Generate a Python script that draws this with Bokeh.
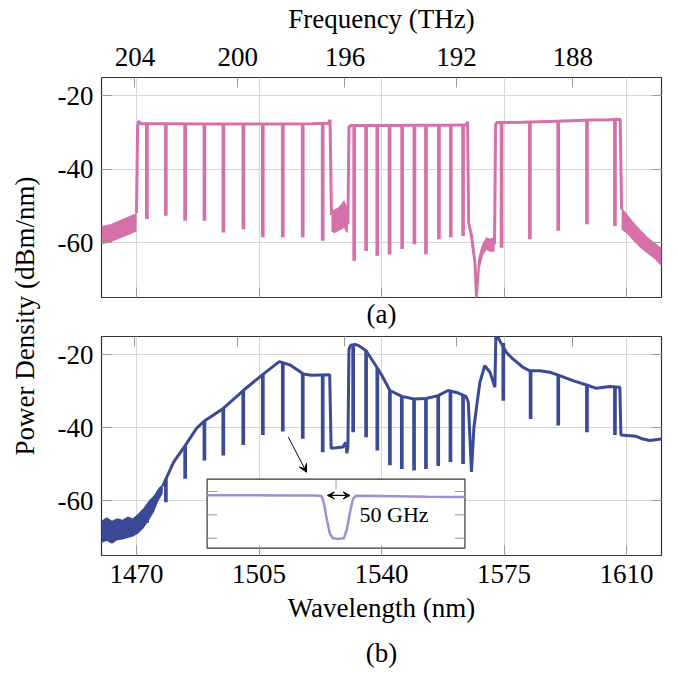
from bokeh.plotting import figure
from bokeh.models import (LinearAxis, FixedTicker, CustomJSTickFormatter, Range1d,
                          Arrow, VeeHead, Label, Title, Div)
from bokeh.layouts import column, row
from bokeh.embed import file_html
from bokeh.resources import INLINE

# ---------------- axes / ticks ----------------
C_LIGHT = 299792.458          # nm * THz
X_LIM = [1460, 1620]
Y_LIM = [-75, -15]
WL_TICKS = [1470, 1505, 1540, 1575, 1610]
DB_TICKS = [-60, -40, -20]
FREQ_TICKS_THZ = [204, 200, 196, 192, 188]

# ---------------- (a) pink spectrum ----------------
A_NOISE1_X = [1460.0, 1462.5, 1465.0, 1467.5, 1470.0]
A_NOISE1_HI = [-55.5, -55.0, -54.0, -53.0, -52.0]
A_NOISE1_LO = [-60.5, -60.0, -59.0, -58.0, -57.0]

A_LINE1_X = [1470.0, 1470.3, 1470.6, 1471.2, 1480.0, 1490.0, 1500.0, 1510.0, 1520.0, 1524.9, 1525.3, 1525.7]
A_LINE1_Y = [-52.0, -28.5, -26.9, -27.6, -27.6, -27.7, -27.7, -27.7, -27.6, -27.5, -26.5, -52.5]

A_NOISE2_X = [1525.7, 1526.5, 1527.5, 1528.5, 1529.3, 1529.8, 1530.4]
A_NOISE2_HI = [-51.5, -51.0, -50.5, -49.5, -48.5, -49.5, -51.0]
A_NOISE2_LO = [-57.0, -57.5, -57.0, -56.5, -56.0, -57.0, -57.5]

A_LINE2_X = [1530.4, 1530.7, 1531.2, 1540.0, 1550.0, 1560.0, 1564.2, 1564.6, 1564.9, 1565.7, 1566.7, 1567.2]
A_LINE2_Y = [-55.0, -28.6, -28.1, -28.1, -28.0, -28.0, -27.9, -27.1, -54.6, -58.1, -65.5, -76.0]

A_NOISE3_X = [1567.2, 1567.6, 1568.1, 1569.0, 1570.0, 1570.9, 1572.3]
A_NOISE3_HI = [-70.0, -64.5, -62.5, -60.0, -58.5, -59.0, -58.5]
A_NOISE3_LO = [-76.0, -74.0, -67.0, -63.5, -62.0, -62.5, -62.5]

A_LINE3_X = [1572.3, 1572.6, 1573.0, 1580.0, 1590.0, 1600.0, 1605.0, 1608.2, 1608.6]
A_LINE3_Y = [-60.5, -27.8, -27.3, -27.2, -26.9, -26.6, -26.5, -26.4, -51.0]

A_NOISE4_X = [1608.6, 1610.0, 1612.0, 1614.0, 1616.0, 1618.0, 1620.0]
A_NOISE4_HI = [-50.5, -52.0, -54.5, -56.5, -58.5, -60.0, -61.5]
A_NOISE4_LO = [-56.5, -57.5, -59.5, -61.5, -63.0, -64.5, -66.5]

A_NOTCH_X = [1472.96, 1478.38, 1483.89, 1489.40, 1494.83, 1500.54, 1506.08, 1511.79, 1517.49, 1523.20,
             1532.2, 1535.6, 1538.8, 1542.3, 1545.9, 1549.4, 1552.7, 1556.4, 1559.8, 1563.3,
             1574.3, 1582.4, 1590.5, 1598.7, 1606.7]
A_NOTCH_TOP = [-27.6, -27.6, -27.6, -27.7, -27.7, -27.7, -27.7, -27.7, -27.6, -27.6,
               -28.1, -28.1, -28.1, -28.1, -28.0, -28.0, -28.0, -28.0, -28.0, -27.9,
               -27.2, -27.1, -26.9, -26.6, -26.5]
A_NOTCH_BOTTOM = [-53.6, -52.7, -54.1, -54.1, -57.3, -56.4, -58.6, -58.6, -58.6, -59.5,
                  -65.0, -62.3, -63.6, -63.2, -61.8, -60.5, -63.2, -59.1, -58.6, -58.2,
                  -61.4, -59.1, -56.8, -55.0, -55.5]

# ---------------- (b) blue spectrum ----------------
B_NOISE_X = [1460.0, 1461.5, 1463.0, 1464.5, 1466.0, 1467.5, 1469.0, 1470.5, 1472.0, 1473.5, 1475.0, 1476.3, 1477.5]
B_NOISE_HI = [-65.5, -64.5, -65.5, -64.8, -65.2, -64.3, -64.8, -63.5, -62.0, -60.0, -58.5, -56.5, -55.5]
B_NOISE_LO = [-71.5, -71.0, -71.8, -70.8, -70.6, -70.2, -69.8, -69.0, -67.5, -65.5, -63.0, -60.0, -58.0]

B_LINE_X = [1477.5, 1480.6, 1483.9, 1487.2, 1489.6, 1494.8, 1500.5, 1506.2, 1510.8, 1513.9,
            1517.7, 1520.0, 1525.2, 1525.6, 1527.0, 1529.0, 1529.8, 1530.1, 1530.4, 1530.7,
            1531.2, 1532.5, 1533.5, 1535.6, 1538.4, 1540.0, 1542.4, 1545.8, 1549.3, 1552.7,
            1556.2, 1559.0, 1562.0, 1564.2, 1564.8, 1565.7, 1566.4, 1567.2, 1568.1, 1569.5,
            1571.0, 1572.4, 1572.7, 1573.2, 1573.8, 1575.7, 1577.6, 1580.5, 1582.4, 1585.2,
            1588.1, 1590.9, 1594.7, 1598.6, 1601.4, 1605.2, 1608.1, 1608.4, 1612.6, 1614.7,
            1616.6, 1620.0]
B_LINE_Y = [-56.0, -49.4, -44.9, -40.1, -38.0, -34.7, -29.8, -25.3, -21.9, -22.8,
            -25.3, -25.6, -25.5, -45.6, -45.5, -45.3, -44.0, -47.0, -45.5, -18.5,
            -17.4, -17.2, -17.5, -18.9, -23.0, -25.5, -29.8, -31.4, -32.1, -32.0,
            -31.2, -29.8, -30.5, -31.5, -33.0, -52.1, -40.0, -34.0, -27.6, -23.0,
            -24.8, -28.9, -13.5, -15.0, -16.2, -19.4, -21.2, -23.5, -24.4, -24.4,
            -24.8, -25.7, -27.1, -28.3, -29.2, -28.7, -28.9, -42.0, -42.3, -43.1,
            -43.5, -43.1]

B_NOTCH_X = [1473.0, 1478.4, 1483.9, 1489.4, 1494.8, 1500.5, 1506.1, 1511.8, 1517.5, 1523.2,
             1531.9, 1535.6, 1538.8, 1542.4, 1545.8, 1549.3, 1552.7, 1556.2, 1559.7, 1563.3,
             1574.8, 1582.6, 1590.5, 1598.7, 1606.7]
B_NOTCH_TOP = [-61.5, -54.0, -45.0, -38.3, -34.7, -29.8, -25.4, -22.0, -25.3, -25.6,
               -17.3, -18.9, -23.6, -29.8, -31.4, -32.1, -32.0, -31.2, -29.9, -31.0,
               -16.8, -24.4, -25.7, -28.3, -28.8]
B_NOTCH_BOTTOM = [-66.0, -60.4, -54.0, -49.0, -47.6, -44.7, -42.0, -41.0, -43.0, -46.7,
                  -41.2, -42.6, -46.2, -50.3, -51.3, -51.7, -51.3, -50.5, -49.4, -49.9,
                  -32.6, -37.6, -39.4, -41.2, -42.0]

# ---------------- inset (single notch, GHz offset vs dB) ----------------
INSET_X = [-285, -200, -100, -50, -32, -26.5, -20, -13.3, -6.7, 4.4, 17.6, 24.2, 30.8, 37.5, 44, 100, 200, 285]
INSET_Y = [-1.6, -1.6, -1.7, -1.7, -1.9, -5.3, -12.4, -18.2, -20.0, -20.3, -20.0, -16.0, -8.9, -3.2, -1.8, -1.9, -2.2, -2.4]
INSET_XLIM = [-285, 285]
INSET_YLIM = [-24.3, 5.27]
INSET_YTICKS = [0, -10, -20]
INSET_XTICKS = [0]
SPACING_ARROW = [-19, 31]      # 50 GHz marker
SPACING_LEVEL = -1.7
SPACING_TEXT = "50 GHz"

# ---------------- styling ----------------
FONT = "Liberation Serif"
FS = "27px"
PINK = "#D670A8"
BLUE = "#3B4A96"
INSET_COLOR = "#9B91D2"
TICK_COLOR = "#999999"
GRID_COLOR = "#d6d6d6"
FRAME_W = 560

EMPTY = "return '';"
PLAIN = "return tick.toFixed(0);"


def style_axis(ax, show_labels=True, standoff=6):
    ax.major_tick_in = 10
    ax.major_tick_out = 0
    ax.minor_tick_in = 0
    ax.minor_tick_out = 0
    ax.major_tick_line_color = TICK_COLOR
    ax.major_tick_line_width = 1
    ax.axis_line_color = None
    ax.major_label_text_font = FONT
    ax.major_label_text_color = "black"
    ax.major_label_text_font_size = FS
    ax.major_label_standoff = standoff if show_labels else 0
    ax.formatter = CustomJSTickFormatter(code=PLAIN if show_labels else EMPTY)
    ax.axis_label_text_font = FONT
    ax.axis_label_text_font_size = FS
    ax.axis_label_text_font_style = "normal"
    ax.axis_label_text_color = "black"


def freq_axis(show_labels):
    ax = LinearAxis(ticker=FixedTicker(ticks=[C_LIGHT / f for f in FREQ_TICKS_THZ], minor_ticks=[]))
    style_axis(ax, show_labels, 12)
    if show_labels:
        ax.formatter = CustomJSTickFormatter(code="return Math.round(%r / tick).toString();" % C_LIGHT)
    return ax


def base_fig(frame_h, b_top, b_bottom):
    p = figure(frame_width=FRAME_W, frame_height=frame_h,
               x_range=Range1d(*X_LIM), y_range=Range1d(*Y_LIM),
               output_backend="svg", toolbar_location=None,
               min_border_left=60, min_border_right=8,
               min_border_top=b_top, min_border_bottom=b_bottom)
    p.outline_line_color = "#333333"
    p.outline_line_width = 1.2
    p.xaxis.ticker = FixedTicker(ticks=WL_TICKS, minor_ticks=[])
    p.yaxis.ticker = FixedTicker(ticks=DB_TICKS, minor_ticks=[])
    p.grid.grid_line_color = GRID_COLOR
    p.grid.grid_line_width = 1
    style_axis(p.yaxis[0], True, 8)
    right = LinearAxis(ticker=FixedTicker(ticks=DB_TICKS, minor_ticks=[]))
    style_axis(right, False)
    p.add_layout(right, "right")
    return p


# ---------------- (a) ----------------
pa = base_fig(220, 75, 36)
style_axis(pa.xaxis[0], False)
pa.xaxis[0].axis_label = "(a)"
pa.xaxis[0].axis_label_standoff = 1
top_ax = freq_axis(True)
top_ax.axis_label = "Frequency (THz)"
top_ax.axis_label_standoff = 11
pa.add_layout(top_ax, "above")

for nx, hi, lo in [(A_NOISE1_X, A_NOISE1_HI, A_NOISE1_LO), (A_NOISE2_X, A_NOISE2_HI, A_NOISE2_LO),
                   (A_NOISE3_X, A_NOISE3_HI, A_NOISE3_LO), (A_NOISE4_X, A_NOISE4_HI, A_NOISE4_LO)]:
    pa.varea(x=nx, y1=lo, y2=hi, fill_color=PINK)
for lx, ly in [(A_LINE1_X, A_LINE1_Y), (A_LINE2_X, A_LINE2_Y), (A_LINE3_X, A_LINE3_Y)]:
    pa.line(lx, ly, line_color=PINK, line_width=3)
pa.segment(x0=A_NOTCH_X, y0=A_NOTCH_TOP, x1=A_NOTCH_X, y1=A_NOTCH_BOTTOM,
           line_color=PINK, line_width=3.7)

# ---------------- (b) ----------------
pb = base_fig(219, 3, 120)
style_axis(pb.xaxis[0], True, 9)
pb.xaxis[0].axis_label = "Wavelength (nm)"
pb.xaxis[0].axis_label_standoff = 7
pb.add_layout(freq_axis(False), "above")
pb.add_layout(Title(text="(b)", align="center", text_font=FONT, text_font_size=FS,
                    text_font_style="normal", text_color="black", standoff=20), "below")

pb.varea(x=B_NOISE_X, y1=B_NOISE_LO, y2=B_NOISE_HI, fill_color=BLUE)
pb.line(B_LINE_X, B_LINE_Y, line_color=BLUE, line_width=3)
pb.segment(x0=B_NOTCH_X, y0=B_NOTCH_TOP, x1=B_NOTCH_X, y1=B_NOTCH_BOTTOM,
           line_color=BLUE, line_width=3.7)

# inset placed through extra ranges (fractions of the frame)
IN_LEFT, IN_RIGHT, IN_BOTTOM, IN_TOP = 0.1886, 0.649, 0.0333, 0.3484
ix_span = (INSET_XLIM[1] - INSET_XLIM[0]) / (IN_RIGHT - IN_LEFT)
iy_span = (INSET_YLIM[1] - INSET_YLIM[0]) / (IN_TOP - IN_BOTTOM)
ix0 = INSET_XLIM[0] - IN_LEFT * ix_span
iy0 = INSET_YLIM[0] - IN_BOTTOM * iy_span
pb.extra_x_ranges = {"ix": Range1d(ix0, ix0 + ix_span)}
pb.extra_y_ranges = {"iy": Range1d(iy0, iy0 + iy_span)}
tick_dx = 10 * ix_span / FRAME_W
tick_dy = 10 * iy_span / 219
kw = dict(x_range_name="ix", y_range_name="iy")

pb.quad(left=INSET_XLIM[0], right=INSET_XLIM[1], bottom=INSET_YLIM[0], top=INSET_YLIM[1],
        fill_color="white", line_color="#333333", line_width=1.2, **kw)
pb.segment(x0=[INSET_XLIM[0]] * 3, y0=INSET_YTICKS, x1=[INSET_XLIM[0] + tick_dx] * 3, y1=INSET_YTICKS,
           line_color=TICK_COLOR, line_width=1, **kw)
pb.segment(x0=[INSET_XLIM[1] - tick_dx] * 3, y0=INSET_YTICKS, x1=[INSET_XLIM[1]] * 3, y1=INSET_YTICKS,
           line_color=TICK_COLOR, line_width=1, **kw)
pb.segment(x0=INSET_XTICKS, y0=[INSET_YLIM[1]], x1=INSET_XTICKS, y1=[INSET_YLIM[1] - tick_dy],
           line_color=TICK_COLOR, line_width=1, **kw)
pb.line(INSET_X, INSET_Y, line_color=INSET_COLOR, line_width=2.5, **kw)
pb.add_layout(Arrow(start=VeeHead(size=7, fill_color="black", line_color="black"),
                    end=VeeHead(size=7, fill_color="black", line_color="black"),
                    x_start=SPACING_ARROW[0], y_start=SPACING_LEVEL,
                    x_end=SPACING_ARROW[1], y_end=SPACING_LEVEL,
                    line_color="black", line_width=1.2, **kw))
pb.add_layout(Label(x=52, y=-10, text=SPACING_TEXT, text_font=FONT, text_font_size="22px",
                    text_baseline="middle", text_align="left", text_color="black", **kw))
# pointer from the notch at 1511.8 nm to the inset
pb.add_layout(Arrow(end=VeeHead(size=8, fill_color="black", line_color="black"),
                    x_start=1513.4, y_start=-42.6, x_end=1518.6, y_end=-52.2,
                    line_color="black", line_width=1))

ylabel = Div(width=41, height=628, margin=(0, 0, 0, 0),
             text=('<div style="position:relative;width:41px;height:628px;">'
                   '<div style="position:absolute;left:25px;top:316px;'
                   'transform:translate(-50%,-50%) rotate(-90deg);white-space:nowrap;'
                   "font-family:'Liberation Serif';font-size:27px;color:black;\">"
                   'Power Density (dBm/nm)</div></div>'))

layout = row(ylabel, column(pa, pb))
open("out.html", "w").write(file_html(layout, INLINE))
